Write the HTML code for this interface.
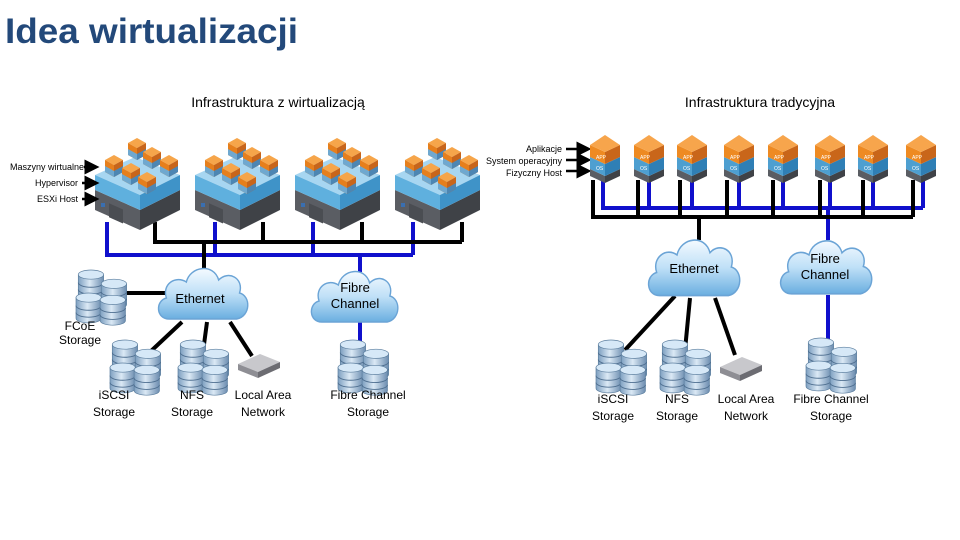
<!DOCTYPE html>
<html><head><meta charset="utf-8"><style>
html,body{margin:0;padding:0;background:#fff;}
svg{display:block;font-family:"Liberation Sans",sans-serif;}
</style></head><body>
<svg width="960" height="540" viewBox="0 0 960 540" xmlns="http://www.w3.org/2000/svg">
<defs>
<linearGradient id="cl" x1="0" y1="0" x2="0" y2="1"><stop offset="0" stop-color="#f4faff"/><stop offset="0.5" stop-color="#bfe0f7"/><stop offset="1" stop-color="#6aaee0"/></linearGradient>
<linearGradient id="cy" x1="0" y1="0" x2="1" y2="0"><stop offset="0" stop-color="#7d9fc0"/><stop offset="0.45" stop-color="#dbe9f5"/><stop offset="1" stop-color="#6c8db0"/></linearGradient>
<g id="cloud"><path d="M15,56 C1,56 0,38 12,35 C7,21 22,12 33,19 C37,3 62,0 67,17 C77,7 94,15 89,30 C101,33 101,53 86,56 Z" fill="url(#cl)" stroke="#6ba4d6" stroke-width="1.5"/></g>
<g id="cyl"><path d="M0,4 v18 a11,4 0 0 0 22,0 v-18 z" fill="url(#cy)" stroke="#5d7f9f" stroke-width="0.6"/><path d="M0,11 a11,4 0 0 0 22,0 M0,17 a11,4 0 0 0 22,0" fill="none" stroke="#4f6f90" stroke-width="0.8"/><ellipse cx="11" cy="4" rx="11" ry="4" fill="#d6e8f7" stroke="#5d7f9f" stroke-width="0.6"/></g>
<g id="stor0"><use href="#cyl" x="2" y="0"/><use href="#cyl" x="22" y="8"/><use href="#cyl" x="0" y="20"/><use href="#cyl" x="21" y="22"/></g>
<g id="stor"><use href="#stor0" transform="scale(1.15)"/></g>
<g id="lan"><polygon points="0,12 22,2 42,10 20,20" fill="#c8c8cc"/><polygon points="0,12 20,20 20,26 0,18" fill="#8e8e94"/><polygon points="20,20 42,10 42,16 20,26" fill="#6c6c72"/></g>
<g id="cube"><polygon points="-9,5 0,0 9,5 0,10" fill="#f6a54a"/><polygon points="-9,5 0,10 0,22 -9,17" fill="#e67f1c"/><polygon points="0,10 9,5 9,17 0,22" fill="#c8651a"/><polygon points="-9,11 0,16 0,22 -9,17" fill="#6fa8cf"/><polygon points="0,16 9,11 9,17 0,22" fill="#4d86b3"/></g>
<g id="vhost">
<polygon points="0,15 45,35 45,55 0,35" fill="#5a5d63"/><polygon points="45,35 85,15 85,35 45,55" fill="#3f4247"/>
<rect x="6" y="28" width="4" height="4" fill="#3a6fb0"/><rect x="14" y="30" width="14" height="14" fill="#4a4d52" transform="skewY(24) translate(0,-8)"/>
<polygon points="0,0 40,-18 85,0 45,20" fill="#9dd2ef" opacity="0.9"/><polygon points="0,0 45,20 45,35 0,15" fill="#5fb0de"/><polygon points="45,20 85,0 85,15 45,35" fill="#3f93c8"/>
<use href="#cube" x="42" y="-37"/><use href="#cube" x="19" y="-20"/><use href="#cube" x="57" y="-28"/><use href="#cube" x="74" y="-20"/><use href="#cube" x="36" y="-12"/><use href="#cube" x="52" y="-3"/>
</g>
<g id="phost">
<polygon points="-15,34 0,41 0,48 -15,41" fill="#5a5d63"/><polygon points="0,41 15,34 15,41 0,48" fill="#3f4247"/>
<polygon points="-15,22 0,29 0,41 -15,34" fill="#4e9fd0"/><polygon points="0,29 15,22 15,34 0,41" fill="#2f7fb5"/>
<polygon points="-15,10 0,17 0,29 -15,22" fill="#ee8a22"/><polygon points="0,17 15,10 15,22 0,29" fill="#c9661a"/>
<polygon points="-15,10 0,0 15,10 0,17" fill="#f7a54c"/>
<text x="-9" y="24" font-size="5" fill="#fff">APP</text><text x="-9" y="35" font-size="5" fill="#fff">OS</text>
</g>
<marker id="ar" markerWidth="6" markerHeight="6" refX="3" refY="3" orient="auto"><path d="M0,0 L6,3 L0,6 z" fill="#000"/></marker>
</defs>

<text x="5" y="43" font-size="35" font-weight="bold" fill="#23497a" textLength="293" lengthAdjust="spacingAndGlyphs">Idea wirtualizacji</text>
<text x="278" y="107" font-size="14" text-anchor="middle" fill="#000">Infrastruktura z wirtualizacją</text>
<text x="760" y="107" font-size="14" text-anchor="middle" fill="#000">Infrastruktura tradycyjna</text>

<g fill="none" stroke-width="4">
<path d="M107,222 V255 H413 M215,222 V255 M313,222 V255 M413,222 V255 M360,255 V272" stroke="#1010cc"/>
<path d="M155,222 V242 H462 M263,222 V242 M362,222 V242 M462,222 V242 M204,242 V268" stroke="#000"/>
<path d="M122,293 H168 M150,352 L182,322 M203,352 L207,322 M252,356 L230,322" stroke="#000"/>
<path d="M360,318 V342" stroke="#1010cc"/>
</g>
<use href="#vhost" x="95" y="175"/><use href="#vhost" x="195" y="175"/><use href="#vhost" x="295" y="175"/><use href="#vhost" x="395" y="175"/>

<g font-size="9" fill="#000" text-anchor="end">
<text x="84" y="170">Maszyny wirtualne</text><text x="78" y="186">Hypervisor</text><text x="78" y="202">ESXi Host</text>
<text x="562" y="152">Aplikacje</text><text x="562" y="164">System operacyjny</text><text x="562" y="176">Fizyczny Host</text>
</g>
<g stroke="#000" stroke-width="2.5" marker-end="url(#ar)">
<line x1="84" y1="167" x2="92" y2="167"/><line x1="82" y1="183" x2="92" y2="183"/><line x1="82" y1="199" x2="92" y2="199"/>
<line x1="566" y1="149" x2="584" y2="149"/><line x1="566" y1="160" x2="584" y2="160"/><line x1="566" y1="171" x2="584" y2="171"/>
</g>

<use href="#cloud" transform="translate(155,263) scale(0.95,1)"/>
<use href="#cloud" transform="translate(308,266) scale(0.92,1)"/>
<text x="200" y="303" font-size="13" text-anchor="middle">Ethernet</text>
<text x="355" y="292" font-size="13" text-anchor="middle">Fibre</text><text x="355" y="308" font-size="13" text-anchor="middle">Channel</text>

<use href="#stor" x="76" y="270"/><use href="#stor" x="110" y="340"/><use href="#stor" x="178" y="340"/><use href="#stor" x="338" y="340"/>
<use href="#lan" x="238" y="352"/>
<g font-size="12" text-anchor="middle" fill="#000">
<text x="80" y="330">FCoE</text><text x="80" y="344">Storage</text>
<text x="114" y="399">iSCSI</text><text x="114" y="416">Storage</text>
<text x="192" y="399">NFS</text><text x="192" y="416">Storage</text>
<text x="263" y="399">Local Area</text><text x="263" y="416">Network</text>
<text x="368" y="399">Fibre Channel</text><text x="368" y="416">Storage</text>
</g>

<g fill="none" stroke-width="4">
<path d="M603,180 V208 H923 M649,180 V208 M692,180 V208 M739,180 V208 M783,180 V208 M830,180 V208 M873,180 V208 M923,180 V208 M828,208 V240 M828,295 V342" stroke="#1010cc"/>
<path d="M593,180 V217 H913 M638,180 V217 M680,180 V217 M727,180 V217 M773,180 V217 M820,180 V217 M863,180 V217 M913,180 V217 M699,217 V240" stroke="#000"/>
<path d="M675,296 L625,350 M690,298 L685,350 M715,298 L735,355" stroke="#000"/>
</g>
<use href="#phost" x="605" y="135"/><use href="#phost" x="649" y="135"/><use href="#phost" x="692" y="135"/><use href="#phost" x="739" y="135"/><use href="#phost" x="783" y="135"/><use href="#phost" x="830" y="135"/><use href="#phost" x="873" y="135"/><use href="#phost" x="921" y="135"/>
<use href="#cloud" transform="translate(645,234) scale(0.97,1.1)"/>
<use href="#cloud" transform="translate(777,235) scale(0.97,1.05)"/>
<text x="694" y="273" font-size="13" text-anchor="middle">Ethernet</text>
<text x="825" y="263" font-size="13" text-anchor="middle">Fibre</text><text x="825" y="279" font-size="13" text-anchor="middle">Channel</text>
<use href="#stor" x="596" y="340"/><use href="#stor" x="660" y="340"/><use href="#stor" x="806" y="338"/>
<use href="#lan" x="720" y="355"/>
<g font-size="12" text-anchor="middle" fill="#000">
<text x="613" y="403">iSCSI</text><text x="613" y="420">Storage</text>
<text x="677" y="403">NFS</text><text x="677" y="420">Storage</text>
<text x="746" y="403">Local Area</text><text x="746" y="420">Network</text>
<text x="831" y="403">Fibre Channel</text><text x="831" y="420">Storage</text>
</g>
</svg>
</body></html>
